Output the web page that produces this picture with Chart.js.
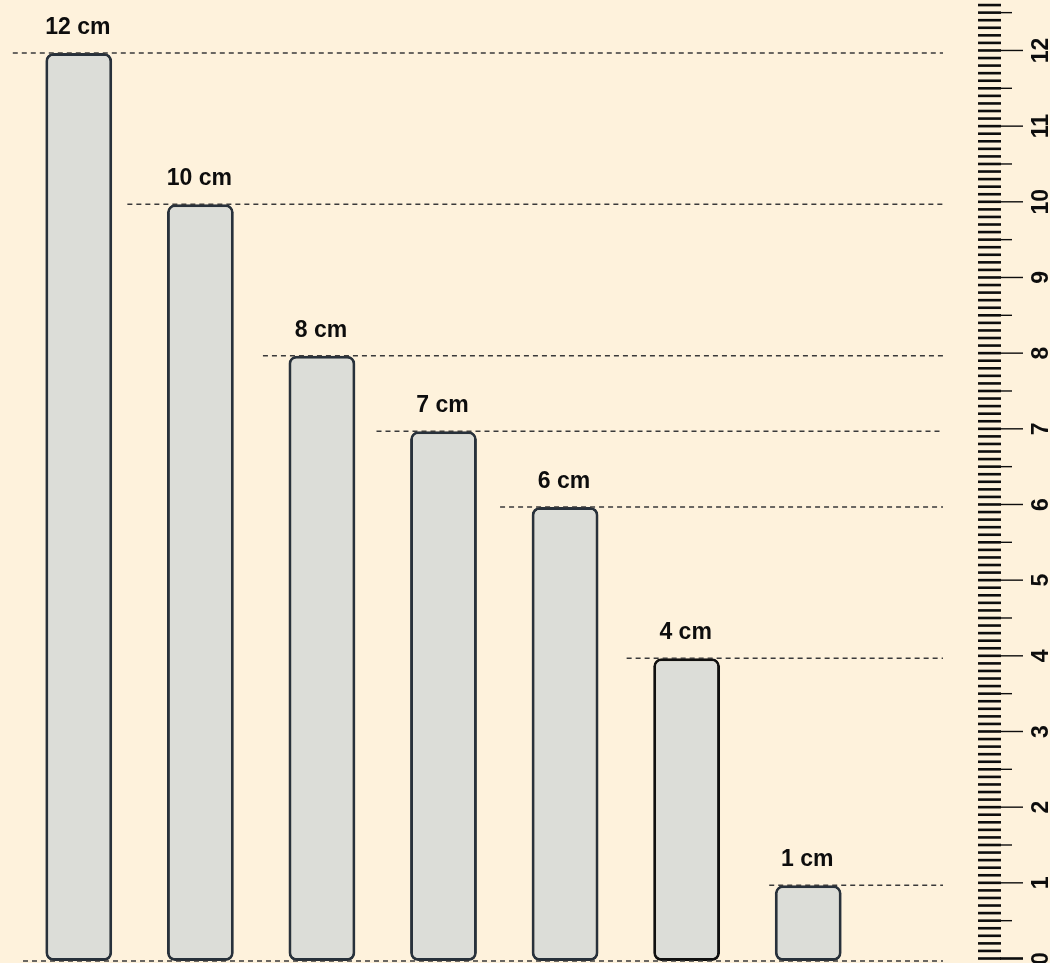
<!DOCTYPE html>
<html>
<head>
<meta charset="utf-8">
<script src="https://cdn.jsdelivr.net/npm/chart.js@4.4.1/dist/chart.umd.min.js"></script>
<style>
  html, body { margin: 0; padding: 0; background: #FEF2DC; }
  #wrap { width: 1050px; height: 963px; position: relative; }
</style>
</head>
<body>
<div id="wrap"><canvas id="c" width="1050" height="963"></canvas></div>
<script>
// ---- data ----
const categories = ["A", "B", "C", "D", "E", "F", "G"];
const lengthsCm = [12, 10, 8, 7, 6, 4, 1];
const valueLabels = ["12 cm", "10 cm", "8 cm", "7 cm", "6 cm", "4 cm", "1 cm"];
const rulerMajorLabels = ["0","1","2","3","4","5","6","7","8","9","10","11","12"];

// ---- style ----
const BG = "#FEF2DC";
const BAR_FILL = "#DCDDD8";
const BAR_BORDER = ["#28313B", "#28313B", "#28313B", "#28313B", "#28313B", "#101010", "#28313B"];
const GUIDE_LEAD = [-66, -73, -59, -67, -65, -60, -39]; // px left of bar centre where guide starts
const GUIDE_END_X = 943;
const FONT = "bold 23px 'Liberation Sans', Arial, Helvetica, sans-serif";

const bgPlugin = {
  id: "bg",
  beforeDraw(chart) {
    const ctx = chart.ctx;
    ctx.save();
    ctx.fillStyle = BG;
    ctx.fillRect(0, 0, chart.width, chart.height);
    ctx.restore();
  }
};

const overlayPlugin = {
  id: "overlay",
  afterDatasetsDraw(chart) {
    const ctx = chart.ctx;
    const y = chart.scales.y;
    const meta = chart.getDatasetMeta(0);
    ctx.save();
    // guide lines
    ctx.strokeStyle = "#3a3a3a";
    ctx.lineWidth = 1.5;
    ctx.setLineDash([5, 4]);
    const y0 = y.getPixelForValue(0);
    ctx.beginPath();
    ctx.moveTo(23, y0); ctx.lineTo(GUIDE_END_X, y0);
    ctx.stroke();
    meta.data.forEach((bar, i) => {
      const py = y.getPixelForValue(lengthsCm[i]);
      ctx.beginPath();
      ctx.moveTo(bar.x + GUIDE_LEAD[i], py);
      ctx.lineTo(GUIDE_END_X, py);
      ctx.stroke();
    });
    ctx.setLineDash([]);
    // value labels
    ctx.fillStyle = "#0d0d0d";
    ctx.font = FONT;
    ctx.textAlign = "center";
    ctx.textBaseline = "alphabetic";
    meta.data.forEach((bar, i) => {
      const py = y.getPixelForValue(lengthsCm[i]);
      ctx.fillText(valueLabels[i], bar.x - 1, py - 19);
    });
    // ruler
    const shift = -2.5;
    ctx.strokeStyle = "#0d0d0d";
    for (let i = 0; i <= 130; i++) {
      const v = i / 10;
      const py = y.getPixelForValue(v) + shift;
      if (py < -2) break;
      ctx.lineWidth = 2.6;
      ctx.beginPath();
      ctx.moveTo(978, py); ctx.lineTo(1001, py);
      ctx.stroke();
      if (i % 5 === 0) {
        const end = (i % 10 === 0) ? 1023 : 1012;
        ctx.lineWidth = (i === 0) ? 2.6 : 1.4;
        ctx.beginPath();
        ctx.moveTo(1000, py); ctx.lineTo(end, py);
        ctx.stroke();
      }
    }
    ctx.fillStyle = "#0d0d0d";
    ctx.font = FONT;
    ctx.textAlign = "center";
    ctx.textBaseline = "middle";
    rulerMajorLabels.forEach((lab) => {
      const py = y.getPixelForValue(Number(lab)) + shift;
      ctx.save();
      ctx.translate(1041, py);
      ctx.rotate(-Math.PI / 2);
      ctx.fillText(lab, 0, 1);
      ctx.restore();
    });
    ctx.restore();
  }
};

new Chart(document.getElementById("c"), {
  type: "bar",
  data: {
    labels: categories,
    datasets: [{
      data: lengthsCm,
      backgroundColor: BAR_FILL,
      borderColor: BAR_BORDER,
      borderWidth: 3,
      borderRadius: 8,
      borderSkipped: false,
      barPercentage: 0.55,
      categoryPercentage: 1.0
    }]
  },
  options: {
    responsive: false,
    animation: false,
    devicePixelRatio: 1,
    layout: { padding: { left: 18, right: 181, top: 0, bottom: 2 } },
    plugins: { legend: { display: false }, tooltip: { enabled: false } },
    scales: {
      x: { display: false },
      y: { display: false, min: 0, max: 12.7 }
    }
  },
  plugins: [bgPlugin, overlayPlugin]
});
</script>
</body>
</html>
